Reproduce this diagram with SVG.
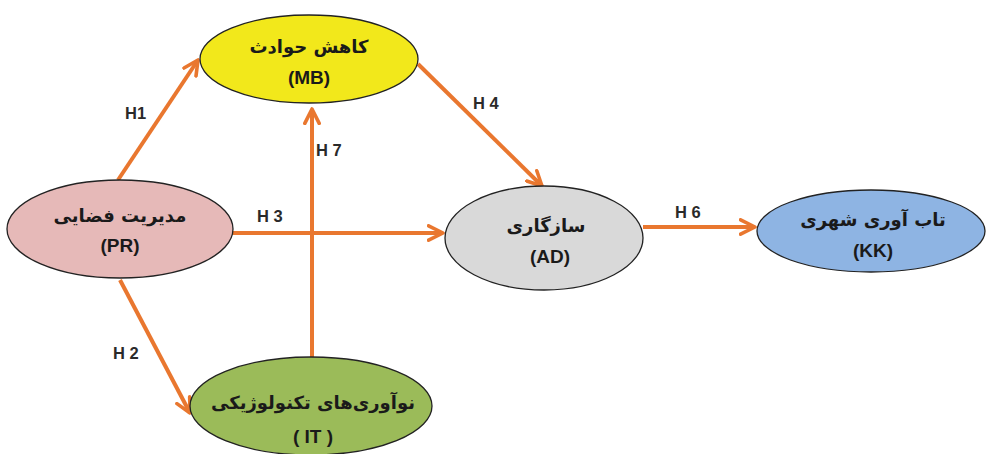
<svg xmlns="http://www.w3.org/2000/svg" width="987" height="454" viewBox="0 0 987 454">
<style>
.n{stroke:#222;stroke-width:1.3}
.t{font-family:"Liberation Sans","DejaVu Sans",sans-serif;font-weight:bold;font-size:19px;fill:#1a1a1a;text-anchor:middle}
.a{font-family:"DejaVu Sans",sans-serif;font-weight:bold;font-size:18px;fill:#1a1a1a;text-anchor:middle}
.e{stroke:#E9772F;stroke-width:4;fill:none;marker-end:url(#h)}
.l{font-family:"Liberation Sans",sans-serif;font-weight:bold;font-size:16.5px;fill:#2a2a2a}
</style>
<defs>
<marker id="h" viewBox="0 0 10 10" refX="9" refY="5" markerWidth="4.5" markerHeight="4.5" orient="auto" markerUnits="strokeWidth">
<polyline points="1,1 9,5 1,9" fill="none" stroke="#E9772F" stroke-width="2" stroke-linecap="round" stroke-linejoin="round"/>
</marker>
</defs>
<rect width="987" height="454" fill="#fff"/>
<g id="edges">
<line class="e" x1="118" y1="180" x2="198" y2="60"/>
<line class="e" x1="120" y1="280" x2="190" y2="413"/>
<line class="e" x1="233" y1="233" x2="443" y2="233"/>
<line class="e" x1="418" y1="64" x2="542" y2="186"/>
<line class="e" x1="643" y1="227" x2="755" y2="227"/>
<line class="e" x1="312" y1="357" x2="312" y2="109"/>
<text class="l" x="125" y="119">H1</text>
<text class="l" x="113" y="359">H 2</text>
<text class="l" x="257" y="222">H 3</text>
<text class="l" x="473" y="109">H 4</text>
<text class="l" x="675" y="218">H 6</text>
<text class="l" x="316" y="156">H 7</text>
</g>
<g id="MB">
<ellipse class="n" cx="309" cy="59" rx="109" ry="44" fill="#F2E81B"/>
<text class="a" x="309" y="53" direction="rtl">کاهش حوادث</text>
<text class="t" x="309" y="84">(MB)</text>
</g>
<g id="PR">
<ellipse class="n" cx="120" cy="229" rx="113" ry="49" fill="#E6B9B8"/>
<text class="a" x="120" y="222" direction="rtl">مدیریت فضایی</text>
<text class="t" x="120" y="252">(PR)</text>
</g>
<g id="AD">
<ellipse class="n" cx="544" cy="238" rx="99" ry="52" fill="#D9D9D9"/>
<text class="a" x="546" y="232" direction="rtl">سازگاری</text>
<text class="t" x="550" y="263">(AD)</text>
</g>
<g id="KK">
<ellipse class="n" cx="871" cy="231" rx="114" ry="41" fill="#8EB4E3"/>
<text class="a" x="873" y="226" direction="rtl">تاب آوری شهری</text>
<text class="t" x="873" y="257">(KK)</text>
</g>
<g id="IT">
<ellipse class="n" cx="311" cy="406" rx="121" ry="49" fill="#9BBB59"/>
<text class="a" x="313" y="409" direction="rtl">نوآوری‌های تکنولوژیکی</text>
<text class="t" x="313" y="443">( IT )</text>
</g>
</svg>
